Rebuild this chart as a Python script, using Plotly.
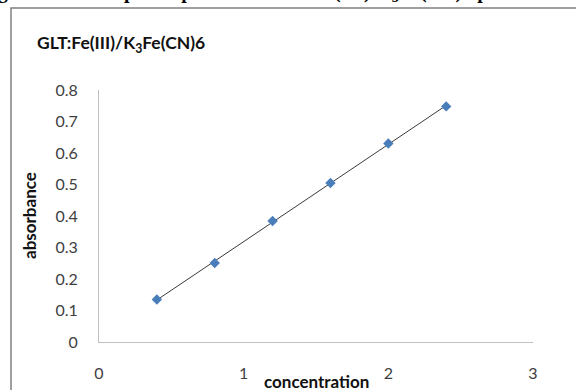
import numpy as np
import plotly.graph_objects as go

concentration = [0.4, 0.8, 1.2, 1.6, 2.0, 2.4]
absorbance = [0.135, 0.251, 0.384, 0.505, 0.630, 0.748]
x_ticks = [0, 1, 2, 3]
y_ticks = [0, 0.1, 0.2, 0.3, 0.4, 0.5, 0.6, 0.7, 0.8]

W, H = 576, 390
L, R, T, B = 99, 43, 90, 48
pw, ph = W - L - R, H - T - B

def px(p):
    return (p - L) / pw

def py(p):
    return (H - B - p) / ph

slope, intercept = np.polyfit(concentration, absorbance, 1)
fit_x = [min(concentration), max(concentration)]
fit_y = [slope * v + intercept for v in fit_x]

FONT = "Lato, Liberation Sans, Arial"

fig = go.Figure()
fig.add_trace(go.Scatter(x=fit_x, y=fit_y, mode="lines",
                         line=dict(color="#3a3a3a", width=1), showlegend=False))
fig.add_trace(go.Scatter(x=concentration, y=absorbance, mode="markers",
                         marker=dict(symbol="diamond", size=8, color="#4a7ebb",
                                     line=dict(width=0)), showlegend=False))

fig.update_layout(
    width=W, height=H,
    margin=dict(l=L, r=R, t=T, b=B, autoexpand=False),
    paper_bgcolor="white", plot_bgcolor="white",
    font=dict(family=FONT, color="#404040", size=16),
    xaxis=dict(range=[0, 3], tickvals=x_ticks, showgrid=False, zeroline=False,
               showline=True, linecolor="#c0c0c0", linewidth=1, automargin=False,
               ticks="outside", ticklen=17, tickcolor="rgba(0,0,0,0)",
               tickfont=dict(family=FONT, size=16, color="#404040")),
    yaxis=dict(range=[0, 0.8], tickvals=y_ticks,
               ticktext=[("%g" % v) for v in y_ticks],
               showgrid=False, zeroline=False, automargin=False,
               showline=True, linecolor="#c0c0c0", linewidth=1,
               ticks="outside", ticklen=17, tickcolor="rgba(0,0,0,0)",
               tickfont=dict(family=FONT, size=16, color="#404040")),
)

fig.add_annotation(text="<b>concentration</b>", xref="paper", yref="paper",
                   x=px(316), y=py(381), xanchor="center", yanchor="middle",
                   showarrow=False, font=dict(family=FONT, size=17, color="#111111"))
fig.add_annotation(text="<b>absorbance</b>", xref="paper", yref="paper",
                   x=px(29), y=py(216), xanchor="center", yanchor="middle", textangle=-90,
                   showarrow=False, font=dict(family=FONT, size=17, color="#111111"))

fig.add_annotation(text="<b>GLT:Fe(III)/K<sub>3</sub>Fe(CN)6</b>",
                   xref="paper", yref="paper", x=px(35), y=py(44),
                   xanchor="left", yanchor="middle", showarrow=False,
                   font=dict(family=FONT, size=17.5, color="#111111"))

fig.add_annotation(text="<b>Figure 12: Absorption spectra of GLT: Fe(III)/K<sub>3</sub>Fe(CN)6 pH</b>",
                   xref="paper", yref="paper", x=px(-22), y=py(7),
                   xanchor="left", yanchor="bottom", showarrow=False,
                   font=dict(family="Liberation Serif, Times New Roman", size=20, color="#000000"))

fig.add_shape(type="rect", xref="paper", yref="paper",
              x0=px(11), y0=py(8), x1=px(620), y1=py(430),
              line=dict(color="#808080", width=1.5), fillcolor="rgba(0,0,0,0)",
              layer="below")

fig.write_html("out.html")
